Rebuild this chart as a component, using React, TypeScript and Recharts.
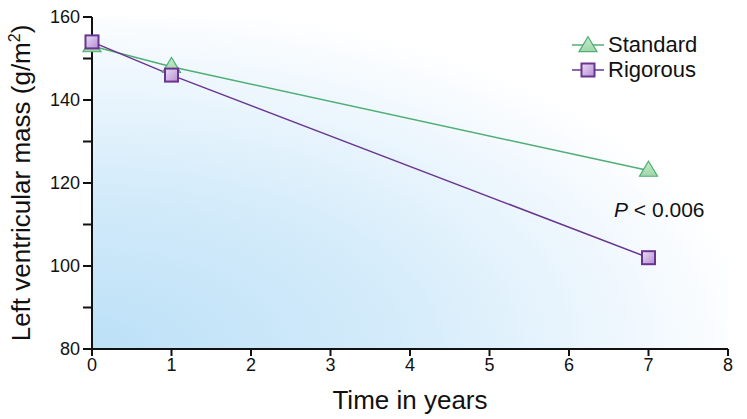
import { LineChart, Line, XAxis, YAxis, ReferenceArea } from 'recharts'

// values
const years = [0, 1, 7]
const standard = [153, 148, 123]
const rigorous = [154, 146, 102]
const xTicks = [0, 1, 2, 3, 4, 5, 6, 7, 8]
const yTicks = [80, 90, 100, 110, 120, 130, 140, 150, 160]
const yLabelled = [80, 100, 120, 140, 160]

const data = years.map((t, i) => ({ t, standard: standard[i], rigorous: rigorous[i] }))

const GREEN = '#4FAE73'
const PURPLE = '#6A3590'
const FONT = '"Liberation Sans", Arial, sans-serif'

function Triangle({ cx, cy }: { cx?: number; cy?: number }) {
  if (cx == null || cy == null) return null
  const w = 9, h = 15
  return (
    <polygon
      points={`${cx},${cy - h * 0.62} ${cx + w},${cy + h * 0.38} ${cx - w},${cy + h * 0.38}`}
      fill="url(#triFill)" stroke={GREEN} strokeWidth={1.2}
    />
  )
}

function Square({ cx, cy }: { cx?: number; cy?: number }) {
  if (cx == null || cy == null) return null
  const s = 6.5
  return <rect x={cx - s} y={cy - s} width={s * 2} height={s * 2} fill="url(#sqFill)" stroke={PURPLE} strokeWidth={2} />
}

function LegendBox() {
  const row = (label: string, color: string, marker: 'tri' | 'sq') => (
    <div style={{ display: 'flex', alignItems: 'center', height: 25 }}>
      <svg width={36} height={24}>
        <line x1={2} x2={34} y1={12} y2={12} stroke={color} strokeWidth={1.5} />
        {marker === 'tri' ? <Triangle cx={18} cy={13} /> : <Square cx={18} cy={12} />}
      </svg>
      <span style={{ fontFamily: FONT, fontSize: 22, color: '#111', marginLeft: 2 }}>{label}</span>
    </div>
  )
  return (
    <div style={{ position: 'absolute', left: 570, top: 32 }}>
      {row('Standard', GREEN, 'tri')}
      {row('Rigorous', PURPLE, 'sq')}
    </div>
  )
}

function YLabel(props: any) {
  const vb = props.viewBox || {}
  const x = 30
  const y = vb.y + vb.height / 2
  return (
    <text x={x} y={y} transform={`rotate(-90 ${x} ${y})`} textAnchor="middle" fontFamily={FONT} fontSize={26} fill="#111">
      Left ventricular mass (g/m<tspan dy={-10} fontSize={16}>2</tspan><tspan dy={10}>)</tspan>
    </text>
  )
}

export default function App() {
  return (
    <div style={{ position: 'absolute', left: 0, top: 0, background: '#fff' }}>
      <LineChart width={747} height={419} data={data} margin={{ top: 17, right: 19, bottom: 6, left: 0 }}>
        <defs>
          <radialGradient id="bg" cx="0" cy="1" r="1.05">
            <stop offset="0" stopColor="#BCE0F7" />
            <stop offset="0.45" stopColor="#D3EBFA" />
            <stop offset="0.85" stopColor="#F3F9FE" />
            <stop offset="1" stopColor="#FFFFFF" />
          </radialGradient>
          <linearGradient id="sqFill" x1="0" y1="0" x2="1" y2="1">
            <stop offset="0" stopColor="#EBDDF6" />
            <stop offset="1" stopColor="#B58DD2" />
          </linearGradient>
          <linearGradient id="triFill" x1="0" y1="0" x2="0" y2="1">
            <stop offset="0" stopColor="#C8EBCD" />
            <stop offset="1" stopColor="#9ED6A8" />
          </linearGradient>
        </defs>
        <ReferenceArea x1={0} x2={8} y1={80} y2={160} fill="url(#bg)" fillOpacity={1} stroke="none" ifOverflow="visible" />
        <XAxis
          dataKey="t"
          type="number"
          domain={[0, 8]}
          ticks={xTicks}
          interval={0}
          height={64}
          tick={{ fontFamily: FONT, fontSize: 18, fill: '#111' }}
          tickSize={7}
          tickMargin={2}
          axisLine={{ stroke: '#111', strokeWidth: 2 }}
          tickLine={{ stroke: '#111', strokeWidth: 2 }}
          label={{ value: 'Time in years', position: 'insideBottom', offset: 4, fontFamily: FONT, fontSize: 26, fill: '#111' }}
        />
        <YAxis
          type="number"
          domain={[80, 160]}
          ticks={yTicks}
          interval={0}
          width={92}
          tickFormatter={(v: number) => (yLabelled.includes(v) ? String(v) : '')}
          tick={{ fontFamily: FONT, fontSize: 18, fill: '#111' }}
          tickSize={9}
          tickMargin={3}
          axisLine={{ stroke: '#111', strokeWidth: 2 }}
          tickLine={{ stroke: '#111', strokeWidth: 2 }}
          label={YLabel}
        />
        <Line type="linear" dataKey="standard" stroke={GREEN} strokeWidth={1.5} dot={(p: any) => <Triangle key={p.index} cx={p.cx} cy={p.cy} />} activeDot={false} isAnimationActive={false} />
        <Line type="linear" dataKey="rigorous" stroke={PURPLE} strokeWidth={1.5} dot={(p: any) => <Square key={p.index} cx={p.cx} cy={p.cy} />} activeDot={false} isAnimationActive={false} />
      </LineChart>
      <LegendBox />
      <div style={{ position: 'absolute', left: 614, top: 198, fontFamily: FONT, fontSize: 21, color: '#111', whiteSpace: 'nowrap' }}>
        <i>P</i> {'< 0.006'}
      </div>
    </div>
  )
}
